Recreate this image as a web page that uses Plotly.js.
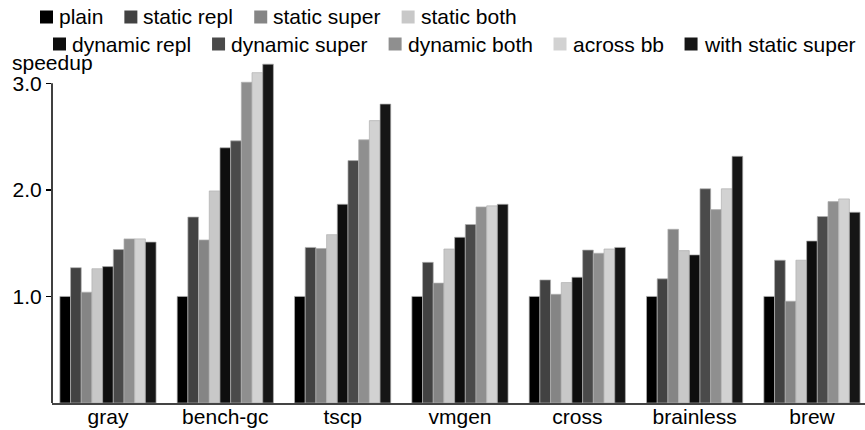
<!DOCTYPE html>
<html>
<head>
<meta charset="utf-8">
<script src="https://cdn.plot.ly/plotly-3.0.1.min.js"></script>
<style>html,body{margin:0;padding:0;background:#fff;}#chart{width:865px;height:430px;}</style>
</head>
<body>
<div id="chart"></div>
<script>
const categories = ['gray', 'bench-gc', 'tscp', 'vmgen', 'cross', 'brainless', 'brew'];
const seriesNames = ['plain', 'static repl', 'static super', 'static both',
  'dynamic repl', 'dynamic super', 'dynamic both', 'across bb', 'with static super'];

const plain           = [1.00, 1.00, 1.00, 1.00, 1.00, 1.00, 1.00];
const staticRepl      = [1.27, 1.745, 1.46, 1.32, 1.155, 1.165, 1.34];
const staticSuper     = [1.04, 1.53, 1.45, 1.125, 1.02, 1.63, 0.955];
const staticBoth      = [1.26, 1.99, 1.58, 1.445, 1.13, 1.43, 1.34];
const dynamicRepl     = [1.28, 2.395, 1.865, 1.555, 1.18, 1.39, 1.52];
const dynamicSuper    = [1.44, 2.46, 2.275, 1.675, 1.435, 2.01, 1.75];
const dynamicBoth     = [1.54, 3.01, 2.47, 1.84, 1.405, 1.815, 1.89];
const acrossBB        = [1.54, 3.10, 2.65, 1.85, 1.445, 2.01, 1.915];
const withStaticSuper = [1.51, 3.18, 2.805, 1.865, 1.46, 2.315, 1.79];

const yTickVals = [1, 2, 3];
const yTickText = ['1.0', '2.0', '3.0'];
const yTitle = 'speedup';

const seriesValues = [plain, staticRepl, staticSuper, staticBoth, dynamicRepl,
  dynamicSuper, dynamicBoth, acrossBB, withStaticSuper];
const colors = ['#000000', '#424242', '#858585', '#c8c8c8', '#0e0e0e',
  '#4a4a4a', '#8f8f8f', '#d2d2d2', '#161616'];

const FONT = 'Liberation Sans, Arial, sans-serif';
const FS = 21;

const traces = seriesNames.map((name, i) => ({
  type: 'bar', name: name, x: categories, y: seriesValues[i],
  marker: {color: colors[i], line: {color: '#b0b0b0', width: 0.7}},
  showlegend: false, hoverinfo: 'x+y+name'
}));

// plot geometry (pixels)
const W = 865, H = 430, ML = 52, MR = 0, MT = 62, MB = 27;
const PW = W - ML - MR, PH = H - MT - MB;
const px2x = px => (px - ML) / PW;
const py2y = py => (H - MB - py) / PH;

// manual legend
const cv = document.createElement('canvas').getContext('2d');
cv.font = FS + 'px "Liberation Sans"';
const rows = [{start: 40, cy: 17, items: [0, 1, 2, 3]}, {start: 53, cy: 44, items: [4, 5, 6, 7, 8]}];
const shapes = [], annotations = [];
const SQ = 13;
rows.forEach(r => {
  let x = r.start;
  r.items.forEach(i => {
    shapes.push({type: 'rect', xref: 'paper', yref: 'paper',
      x0: px2x(x), x1: px2x(x + SQ), y0: py2y(r.cy + SQ / 2), y1: py2y(r.cy - SQ / 2),
      fillcolor: colors[i], line: {width: 0}});
    const tx = x + 19;
    annotations.push({xref: 'paper', yref: 'paper', x: px2x(tx), y: py2y(r.cy),
      xanchor: 'left', yanchor: 'middle', text: seriesNames[i], showarrow: false,
      borderpad: 0, borderwidth: 0, font: {family: FONT, size: FS, color: '#000'}});
    const w = cv.measureText(seriesNames[i]).width;
    x = tx + w + 21;
  });
});
annotations.push({xref: 'paper', yref: 'paper', x: px2x(12), y: py2y(62),
  xanchor: 'left', yanchor: 'middle', text: yTitle, showarrow: false,
  borderpad: 0, borderwidth: 0, font: {family: FONT, size: FS, color: '#000'}});
// y axis line from 0 to 3.0
shapes.push({type: 'line', xref: 'paper', yref: 'y', x0: 0, x1: 0, y0: 0, y1: 3,
  line: {color: '#000', width: 1.5}});

const layout = {
  width: W, height: H,
  margin: {l: ML, r: MR, t: MT, b: MB, pad: 0},
  paper_bgcolor: '#fff', plot_bgcolor: '#fff',
  font: {family: FONT, size: FS, color: '#000'},
  barmode: 'group', bargap: 0.18, bargroupgap: 0,
  showlegend: false,
  xaxis: {type: 'category', range: [-0.477, 6.452], showgrid: false, zeroline: false,
    showline: true, linecolor: '#444', linewidth: 1.5, ticks: '', ticklen: 0,
    ticklabelstandoff: -6,
    tickfont: {family: FONT, size: FS, color: '#000'}, fixedrange: true},
  yaxis: {range: [0, 3.2], showgrid: false, zeroline: false, showline: false,
    tickvals: yTickVals, ticktext: yTickText, ticks: 'outside', ticklen: 5,
    tickwidth: 1.5, tickcolor: '#000',
    tickfont: {family: FONT, size: FS, color: '#000'}, fixedrange: true},
  shapes: shapes, annotations: annotations
};

Plotly.newPlot('chart', traces, layout, {displayModeBar: false, staticPlot: true});
</script>
</body>
</html>
